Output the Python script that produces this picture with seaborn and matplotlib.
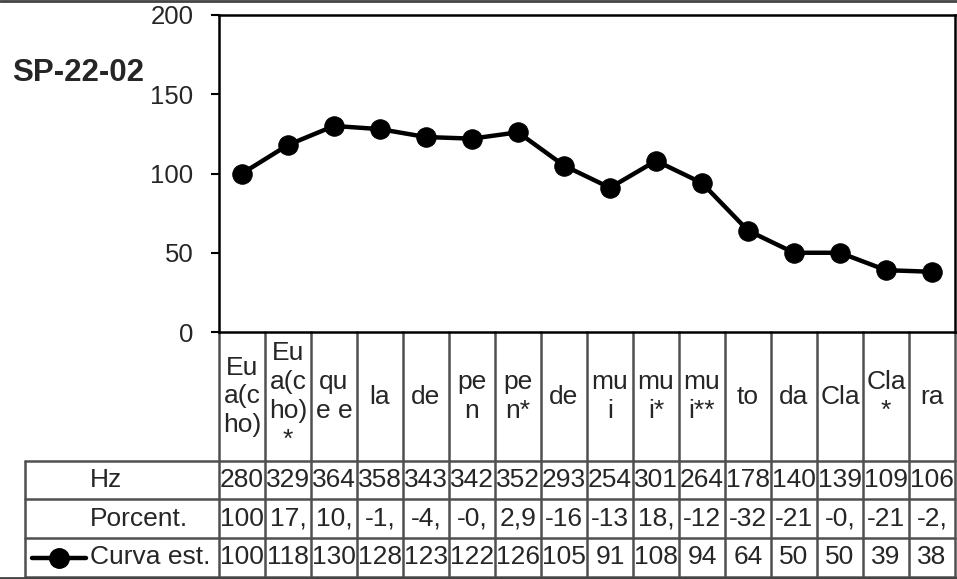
import numpy as np
import pandas as pd
import seaborn as sns
import matplotlib
matplotlib.use("Agg")
import matplotlib.pyplot as plt
from matplotlib.transforms import blended_transform_factory
from matplotlib.lines import Line2D

# ---- data ----
categories = ["Eu\na(c\nho)", "Eu\na(c\nho)\n*", "qu\ne e", "la", "de", "pe\nn", "pe\nn*", "de",
              "mu\ni", "mu\ni*", "mu\ni**", "to", "da", "Cla", "Cla\n*", "ra"]
hz = [280, 329, 364, 358, 343, 342, 352, 293, 254, 301, 264, 178, 140, 139, 109, 106]
porcent = ["100", "17,", "10,", "-1,", "-4,", "-0,", "2,9", "-16", "-13", "18,", "-12",
           "-32", "-21", "-0,", "-21", "-2,"]
curva = [100, 118, 130, 128, 123, 122, 126, 105, 91, 108, 94, 64, 50, 50, 39, 38]
row_labels = ["Hz", "Porcent.", "Curva est."]
y_ticks = [0, 50, 100, 150, 200]
title = "SP-22-02"

sns.set_theme(style="white")
plt.rcParams["font.family"] = ["Liberation Sans", "DejaVu Sans"]

W, H = 957, 579
fig = plt.figure(figsize=(W / 100, H / 100), dpi=100)

# pixel geometry
ax_l, ax_r, ax_t, ax_b = 219, 955, 15, 332
ax = fig.add_axes([ax_l / W, 1 - ax_b / H, (ax_r - ax_l) / W, (ax_b - ax_t) / H])

n = len(categories)
df = pd.DataFrame({"pos": np.arange(n), "curva": curva})
sns.lineplot(data=df, x="pos", y="curva", ax=ax, color="black", linewidth=3.2,
             marker="o", markersize=14, markeredgecolor="black", markerfacecolor="black")

ax.set_xlim(-0.5, n - 0.5)
ax.set_ylim(0, 200)
ax.set_yticks(y_ticks)
ax.set_xticks([])
ax.set_xlabel("")
ax.set_ylabel("")
ax.tick_params(axis="y", direction="out", length=5.8, width=1.5, color="black",
               labelsize=18.5, pad=12.5, left=True)
for s in ax.spines.values():
    s.set_visible(True)
    s.set_color("black")
    s.set_linewidth(1.8)

fig.text(12 / W, 1 - 73 / H, title, fontsize=22.5, fontweight="bold", va="center", ha="left")

# ---- data table below axes ----
tr = blended_transform_factory(ax.transData, fig.transFigure)
trf = fig.transFigure

def fy(py):
    return 1 - py / H

def fx(px):
    return px / W

grid_col = "#505050"
lw = 1.8
row_y = [332, 461, 499, 538, 577]
fs = 19

# vertical category boundaries
for i in range(n + 1):
    x = i - 0.5
    ax.plot([x, x], [fy(332), fy(577)], transform=tr, color=grid_col, lw=lw, clip_on=False)
# horizontal lines across category columns
for py in row_y[1:]:
    ax.plot([-0.5, n - 0.5], [fy(py), fy(py)], transform=tr, color=grid_col, lw=lw, clip_on=False)
# label column
for py in row_y[1:]:
    fig.add_artist(Line2D([fx(25), fx(ax_l)], [fy(py), fy(py)], transform=trf, color=grid_col, lw=lw))
fig.add_artist(Line2D([fx(25), fx(25)], [fy(461), fy(577)], transform=trf, color=grid_col, lw=lw))

# category labels
for i, c in enumerate(categories):
    ax.text(i, fy((332 + 461) / 2), c, transform=tr, ha="center", va="center",
            fontsize=fs, linespacing=1.25, clip_on=False)

# row values
rows = [[str(v) for v in hz], porcent, [str(v) for v in curva]]
for r, vals in enumerate(rows):
    yc = fy((row_y[r + 1] + row_y[r + 2]) / 2)
    for i, v in enumerate(vals):
        ax.text(i, yc, v, transform=tr, ha="center", va="center", fontsize=fs, clip_on=False)
    fig.text(fx(90), yc, row_labels[r], ha="left", va="center", fontsize=fs)

# legend key in the table
yc = fy((538 + 577) / 2)
fig.add_artist(Line2D([fx(32), fx(86)], [yc, yc], transform=trf, color="black", lw=3.2))
fig.add_artist(Line2D([fx(59)], [yc], transform=trf, color="black", marker="o",
                      markersize=14, markerfacecolor="black", markeredgecolor="black"))

# outer chart border (top and bottom)
fig.add_artist(Line2D([0, 1], [fy(1), fy(1)], transform=trf, color="#444444", lw=2))
fig.add_artist(Line2D([0, 1], [fy(578), fy(578)], transform=trf, color="#444444", lw=2))

fig.savefig("out.png", dpi=100)
